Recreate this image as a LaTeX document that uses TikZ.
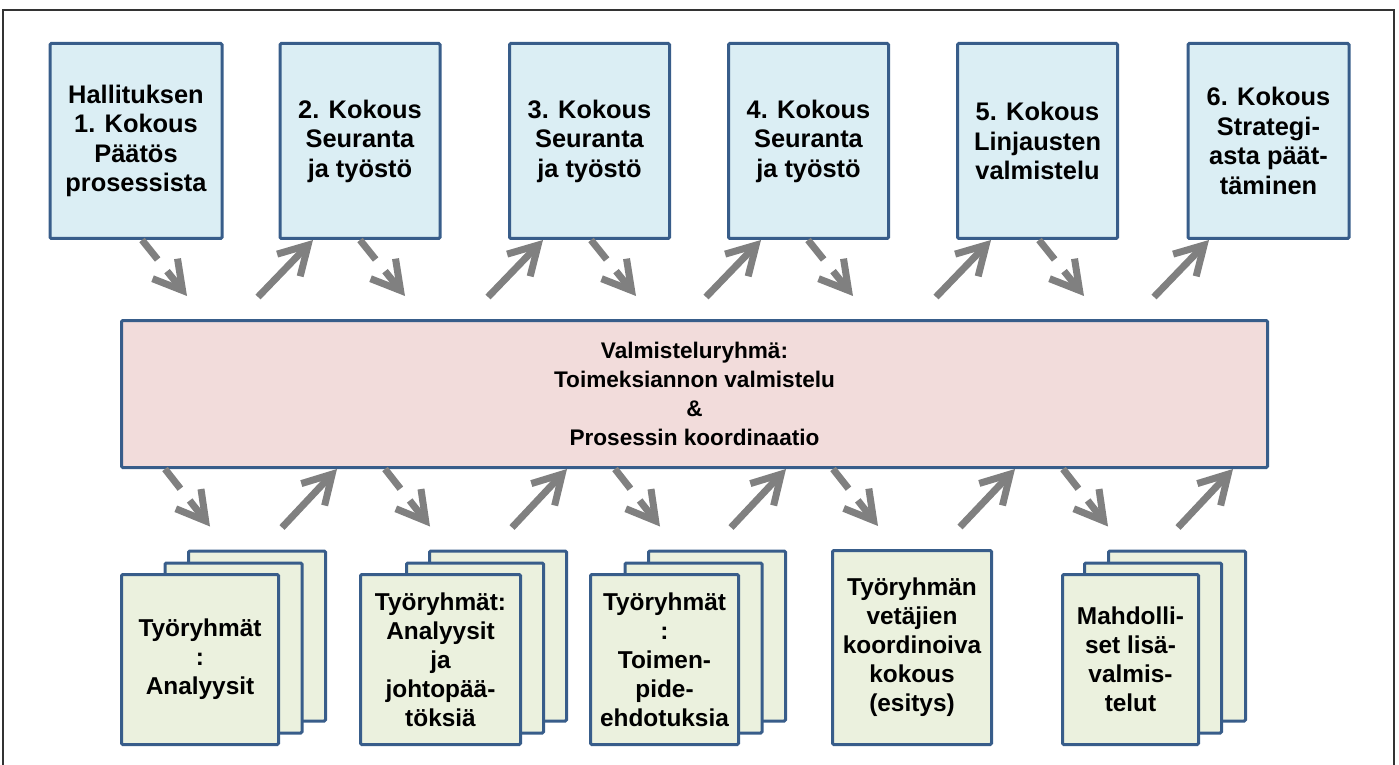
\documentclass[tikz,border=0pt]{standalone}
\usepackage{fontspec}
\setmainfont{Liberation Sans}
\usetikzlibrary{positioning,arrows.meta,calc}

\definecolor{boxline}{HTML}{385D8A}
\definecolor{topfill}{HTML}{DBEEF4}
\definecolor{midfill}{HTML}{F2DCDB}
\definecolor{lowfill}{HTML}{EBF1DE}
\definecolor{flowgray}{HTML}{808080}
\definecolor{framegray}{HTML}{333333}

\begin{document}
\begin{tikzpicture}[x=0.5pt, y=-0.5pt,
        box/.style={draw=boxline, line width=1.5pt, rounded corners=0.6pt, align=center,
            inner sep=0pt, font=\bfseries\fontsize{12.2}{14.5}\selectfont},
        topbox/.style={box, fill=topfill, minimum width=80pt, minimum height=97.5pt,
            font=\bfseries\fontsize{12.7}{14.75}\selectfont},
        lowbox/.style={box, fill=lowfill, minimum height=85pt},
        sheet/.style={lowbox, minimum width=68.5pt},
        dnarrow/.style={draw=flowgray, line width=3.5pt, dash pattern=on 12.5pt off 7.5pt,
            -{Straight Barb[length=14pt, width=16pt, line cap=butt, line join=miter]}},
        uparrow/.style={draw=flowgray, line width=3.5pt,
            -{Straight Barb[length=14pt, width=16pt, line cap=butt, line join=miter]}}]

        \useasboundingbox (0,0) rectangle (1399,765);

        % outer frame
        \draw[framegray, line width=1pt] (3,765) -- (3,10) -- (1394,10) -- (1394,765);

        % meetings of the board
        \node[topbox, minimum width=86pt] (t1) at (136,141) {Hallituksen\\1. Kokous\\Päätös\\prosessista};
        \node[topbox] (t2) at (360,141) {2. Kokous\\Seuranta\\ja työstö};
        \node[topbox] (t3) at (589.5,141) {3. Kokous\\Seuranta\\ja työstö};
        \node[topbox] (t4) at (808.5,141) {4. Kokous\\Seuranta\\ja työstö};
        \node[topbox] (t5) at (1037.5,141) {5. Kokous\\Linjausten\\valmistelu};
        \node[topbox, minimum width=80.5pt] (t6) at (1268.5,141) {6. Kokous\\Strategi-\\asta päät-\\täminen};

        % preparation group
        \node[box, fill=midfill, minimum width=573pt, minimum height=73.5pt,
            font=\bfseries\fontsize{11.3}{14.5}\selectfont] (mid) at (694.5,394)
            {Valmisteluryhmä:\\Toimeksiannon valmistelu\\\&\\Prosessin koordinaatio};

        % sheets behind the working groups
        \foreach \nm/\bx/\mx in {w1/257/233.5, w2/498/475, w3/717/693.5, w5/1177/1153} {
            \node[sheet] (\nm b) at (\bx,636) {};
            \node[sheet] (\nm m) at (\mx,648) {};
        }

        % working groups
        \node[lowbox, minimum width=78.5pt] (w1) at (200,659.5) {Työryhmät\\:\\Analyysit};
        \node[lowbox, minimum width=80pt] (w2) at (440.5,659.5) {Työryhmät:\\Analyysit\\ja\\johtopää-\\töksiä};
        \node[lowbox, minimum width=74pt] (w3) at (664.5,659.5) {Työryhmät\\:\\Toimen-\\pide-\\ehdotuksia};
        \node[lowbox, minimum width=79.5pt, minimum height=97pt] (w4) at (912,647.5) {Työryhmän\\vetäjien\\koordinoiva\\kokous\\(esitys)};
        \node[lowbox, minimum width=68pt] (w5) at (1130.5,659.5) {Mahdolli-\\set lisä-\\valmis-\\telut};

        % top row: down to the group, back up to the next meeting
        \foreach \nm/\dx in {t1/22, t2/240, t3/471, t4/688, t5/919}
            \draw[dnarrow] ($(\nm.south -| mid.north west)+(\dx,0)$) -- ($(mid.north west)+(\dx+45,-23)$);
        \foreach \nm/\dx in {t2/138, t3/368, t4/586, t5/816, t6/1034}
            \draw[uparrow] ($(mid.north west)+(\dx,-22)$) -- ($(\nm.south -| mid.north west)+(\dx+55,0)$);

        % bottom row: down to the working groups, back up to the group
        \foreach \nm/\dx in {w1b/45, w2b/265, w3b/495, w4/713, w5b/943}
            \draw[dnarrow] ($(mid.south west)+(\dx,0)$) -- ($(\nm.north -| mid.south west)+(\dx+45,-23)$);
        \foreach \nm/\dx in {w1b/162, w2b/392, w3b/611, w4/840, w5b/1058}
            \draw[uparrow] ($(\nm.north -| mid.south west)+(\dx,-22)$) -- ($(mid.south west)+(\dx+55,0)$);

    \end{tikzpicture}
\end{document}
